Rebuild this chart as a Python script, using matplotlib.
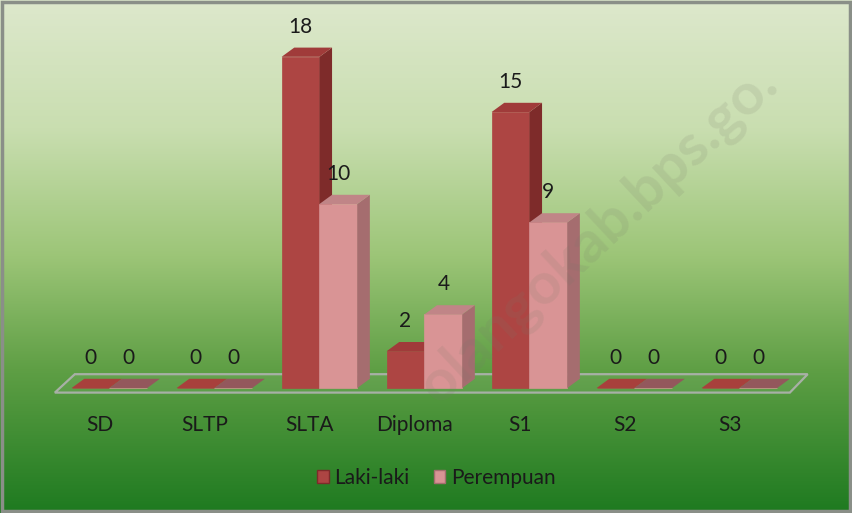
import numpy as np
import matplotlib.pyplot as plt
from matplotlib.colors import LinearSegmentedColormap
from matplotlib.patches import Polygon, Patch

plt.rcParams['font.family'] = ['Lato', 'DejaVu Sans']

# data
kategori = ['SD', 'SLTP', 'SLTA', 'Diploma', 'S1', 'S2', 'S3']
laki = [0, 0, 18, 2, 15, 0, 0]
perempuan = [0, 0, 10, 4, 9, 0, 0]

# warna: depan, samping, atas, atas (nilai 0)
warna_laki = ('#ad4543', '#7e2b2a', '#a03b3a', '#a8403c')
warna_prp = ('#d99495', '#a56d6f', '#c08587', '#93585c')

W = 852 / 100
H = 513 / 100
fig = plt.figure(figsize=(W, H), dpi=100)

# latar gradasi
bg = fig.add_axes([0, 0, 1, 1], zorder=-1)
cmap = LinearSegmentedColormap.from_list('hijau', [
    (0.0, '#dde8cc'), (0.25, '#c9deb0'), (0.5, '#9cc577'),
    (0.72, '#5f9f45'), (1.0, '#1e7a20')])
grad = np.linspace(0, 1, 256).reshape(-1, 1)
bg.imshow(grad, aspect='auto', cmap=cmap, extent=[0, 1, 1, 0])
bg.set_xlim(0, 1)
bg.set_ylim(1, 0)
bg.axis('off')
bg.add_patch(plt.Rectangle((0.002, 0.003), 0.996, 0.994, fill=False,
                           ec='#8a8f88', lw=2.5, transform=bg.transAxes))

# watermark (samar)
fig.text(0.915, 0.83, 'olangokab.bps.go.', fontsize=42, fontweight='bold',
         color='#7a7a6a', alpha=0.15, rotation=43, rotation_mode='anchor',
         ha='right', va='baseline')

ax = fig.add_axes([5.5 / 852, 1 - 443.2 / 513, 819 / 852, 423.2 / 513])
ax.set_xlim(-0.9, 6.9)
ax.set_ylim(-3, 20)
ax.axis('off')
ax.patch.set_alpha(0)

# lantai
ax.add_patch(Polygon([(-0.43, -0.25), (6.57, -0.25), (6.74, 0.75), (-0.24, 0.75)],
                     closed=True, fc=(1, 1, 1, 0.06), ec='#a8b0a6', lw=1.6, zorder=1))

x = np.arange(len(kategori))
w = 0.36
dx, dy = 0.12, 0.5


def batang3d(xs, vals, warna, lbl):
    bars = ax.bar(xs, vals, width=w, align='edge', color=warna[0],
                  edgecolor=warna[0], lw=0.5, zorder=3, label=lbl)
    for b, v in zip(bars, vals):
        x0 = b.get_x()
        x1 = x0 + b.get_width()
        ax.add_patch(Polygon([(x1, 0), (x1 + dx, dy), (x1 + dx, v + dy), (x1, v)],
                             closed=True, fc=warna[1], ec='none', zorder=3))
        atas = warna[2] if v > 0 else warna[3]
        ax.add_patch(Polygon([(x0, v), (x0 + dx, v + dy), (x1 + dx, v + dy), (x1, v)],
                             closed=True, fc=atas, ec='none', zorder=3))
        ax.text(x0 + w / 2, v + dy + 0.6, str(v), ha='center', va='bottom',
                fontsize=15, color='#1a1a1a', zorder=5)


batang3d(x - 0.27, laki, warna_laki, 'Laki-laki')
batang3d(x + 0.09, perempuan, warna_prp, 'Perempuan')

for i, k in enumerate(kategori):
    ax.text(i, -2.0, k, ha='center', va='center', fontsize=15, color='#1a1a1a')

handles = [Patch(fc=warna_laki[0], ec='#7e2b2a', label='Laki-laki'),
           Patch(fc=warna_prp[0], ec='#a56d6f', label='Perempuan')]
fig.legend(handles=handles, loc='center', bbox_to_anchor=(0.512, 0.068), ncol=2,
           frameon=False, fontsize=15, handlelength=0.55, handleheight=0.6,
           handletextpad=0.25, columnspacing=1.2, labelcolor='#1a1a1a')

fig.savefig('out.png', dpi=100)
